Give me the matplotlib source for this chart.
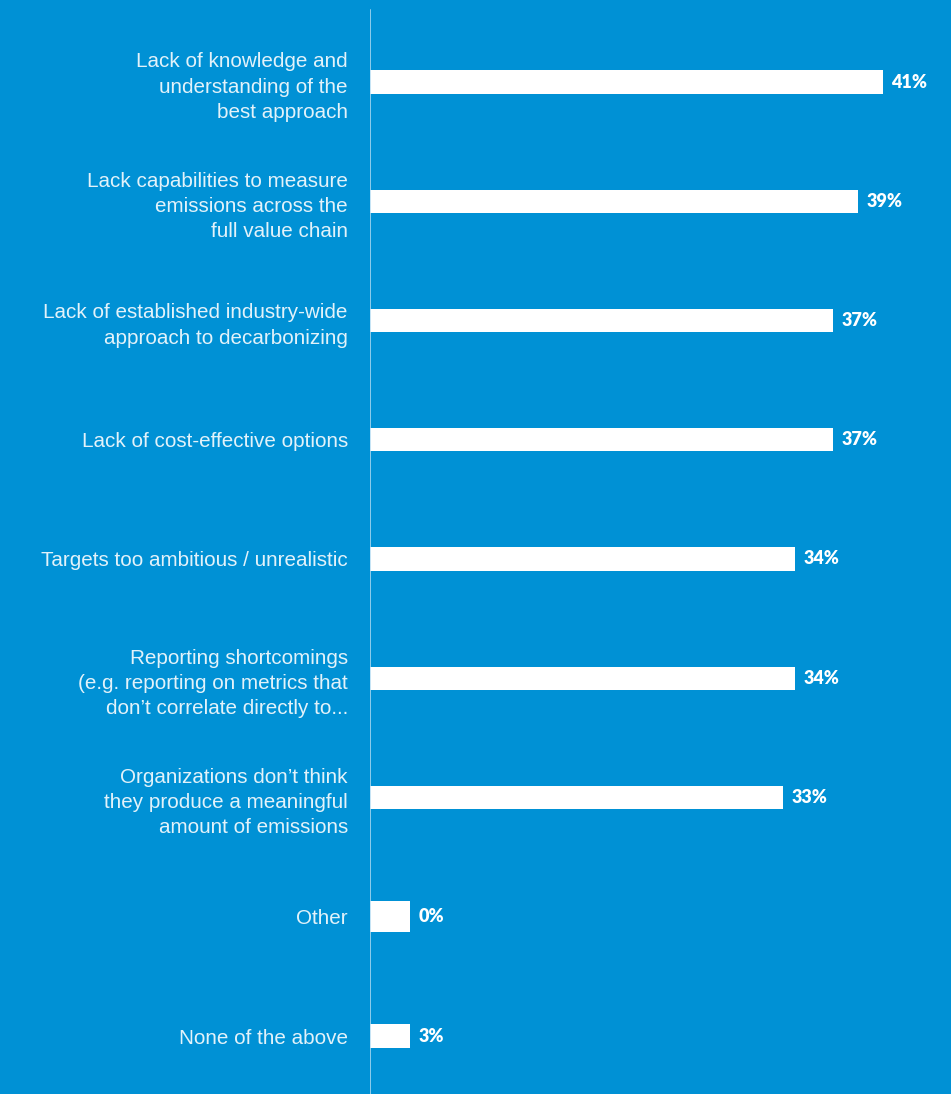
import matplotlib.pyplot as plt

# survey answers, top to bottom
categories = [
    'Lack of knowledge and\nunderstanding of the\nbest approach',
    'Lack capabilities to measure\nemissions across the\nfull value chain',
    'Lack of established industry-wide\napproach to decarbonizing',
    'Lack of cost-effective options',
    'Targets too ambitious / unrealistic',
    'Reporting shortcomings\n(e.g. reporting on metrics that\ndon\u2019t correlate directly to...',
    'Organizations don\u2019t think\nthey produce a meaningful\namount of emissions',
    'Other',
    'None of the above',
]
shares = [41, 39, 37, 37, 34, 34, 33, 0, 3]

bg = '#0091d5'
min_width = 3.2   # keep tiny answers visible as a stub

fig = plt.figure(figsize=(9.51, 10.94), dpi=100, facecolor=bg)
ax = fig.add_axes([370 / 951, 0, 1 - 370 / 951, 1], facecolor=bg)

ypos = list(range(len(categories)))
heights = [0.26 if v == 0 else 0.193 for v in shares]
widths = [max(v, min_width) for v in shares]
ax.barh(ypos, widths, height=heights, color='white', linewidth=0)

for y, v, w in zip(ypos, shares, widths):
    ax.annotate(f'{v}%', (w, y), xytext=(6.5, 0), textcoords='offset points',
                ha='left', va='center', color='white', fontsize=13,
                fontfamily='Lato', fontweight='heavy')

ax.set_xlim(0, (951 - 370) / 12.5)
ax.set_ylim((1094 - 82) / 119.25, -82 / 119.25)
ax.set_yticks(ypos)
ax.set_yticklabels(categories, fontsize=14.9, color='#e2f2fa',
                   fontfamily='Liberation Sans', linespacing=1.42)
ax.tick_params(axis='y', length=0, pad=16)
ax.set_xticks([])
for s in ax.spines.values():
    s.set_visible(False)
ax.axvline(0, ymin=0, ymax=1 - 10 / 1094, color='#b5ddf2', linewidth=1.1)

fig.savefig('out.png', dpi=100, facecolor=bg)
